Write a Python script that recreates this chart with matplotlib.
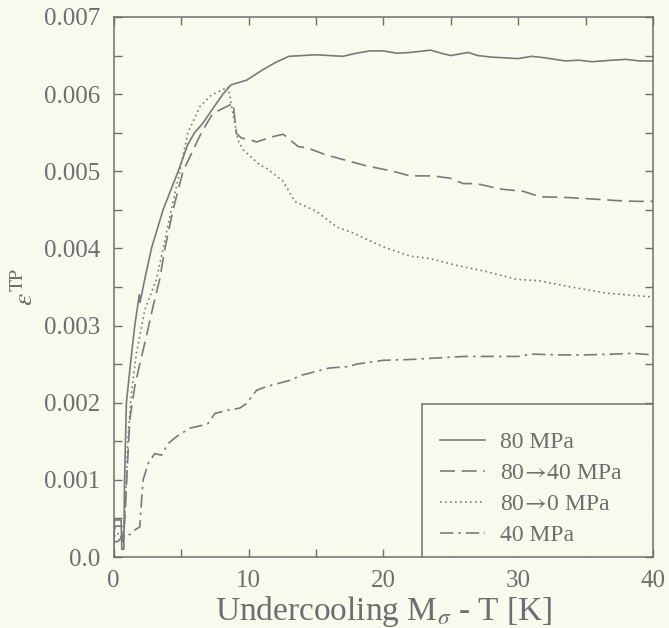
import matplotlib
matplotlib.use("Agg")
import matplotlib.pyplot as plt
from matplotlib.patches import Rectangle
from matplotlib.ticker import MultipleLocator, FixedFormatter, FixedLocator

plt.rcParams["font.family"] = ["Liberation Serif", "DejaVu Serif"]
plt.rcParams["mathtext.fontset"] = "stix"

# Transformation strain vs. undercooling for four loading histories
x_80 = [0.0, 0.05, 0.55, 0.6, 0.75, 0.8, 0.94, 1.24, 1.56, 1.9, 1.95, 2.3, 2.8, 3.66,
        4.78, 5.5, 6.0, 6.6, 7.3, 8.1, 8.7, 9.85, 11.0, 12.0, 13.0, 14.0, 15.0, 17.0, 18.0,
        19.0, 20.0, 21.0, 22.0, 23.5, 24.5, 25.0, 26.3, 27.0, 28.0, 29.0, 30.0, 31.0, 32.0,
        33.5, 34.5, 35.5, 37.0, 38.0, 39.0, 40.0]
y_80 = [0.0001, 0.00048, 0.00048, 0.0001, 0.0001, 0.00096, 0.0020, 0.0025, 0.0030, 0.00340,
        0.00330, 0.0036, 0.0040, 0.0045, 0.0050, 0.00535, 0.0055, 0.00562, 0.0058,
        0.0060, 0.00612, 0.00618, 0.00631, 0.00641, 0.00649, 0.0065, 0.00651, 0.00649, 0.00653,
        0.00656, 0.00656, 0.00653, 0.00654, 0.00657, 0.00652, 0.0065, 0.00654, 0.0065, 0.00648,
        0.00647, 0.00646, 0.00649, 0.00647, 0.00643, 0.00644, 0.00642, 0.00644, 0.00645,
        0.00643, 0.00643]

x_80_40 = [0.0, 0.1, 0.6, 0.7, 0.82, 0.94, 1.06, 1.19, 1.56, 1.93, 2.42, 2.92, 3.41, 3.8,
           4.4, 5.14, 6.5, 7.35, 8.86, 9.1, 9.48, 10.09, 10.59, 11.83, 12.57, 13.68, 14.42,
           15.78, 17.27, 18.75, 20.73, 21.97, 23.7, 24.94, 25.93, 26.92, 28.65, 30.38, 31.62,
           33.6, 35.58, 37.31, 38.8, 40.0]
y_80_40 = [0.0003, 0.0004, 0.0004, 0.0002, 0.00048, 0.00091, 0.00134, 0.00178, 0.00221,
           0.0025, 0.00286, 0.00325, 0.0036, 0.0040, 0.0045, 0.0050, 0.0055, 0.00575,
           0.00588, 0.00549, 0.00543, 0.00541, 0.00538, 0.00545, 0.00548, 0.00532, 0.0053,
           0.00521, 0.00514, 0.00507, 0.0050, 0.00494, 0.00494, 0.00491, 0.00484, 0.00484,
           0.00477, 0.00474, 0.00467, 0.00466, 0.00464, 0.00462, 0.00461, 0.00461]

x_80_0 = [0.0, 0.1, 0.5, 0.6, 0.82, 0.94, 1.06, 1.31, 1.68, 2.3, 3.17, 3.66, 4.27,
          4.9, 5.5, 6.4, 7.25, 8.48, 9.22, 9.6, 10.09, 10.84, 11.33, 12.57, 13.43, 15.04,
          16.53, 17.76, 19.99, 21.97, 23.45, 25.43, 27.41, 29.88, 31.62, 33.6, 36.57, 40.0]
y_80_0 = [0.0002, 0.0003, 0.0003, 0.0002, 0.00052, 0.00104, 0.00156, 0.00212, 0.00264,
          0.0032, 0.0036, 0.0040, 0.0045, 0.0050, 0.0055, 0.00584, 0.00599, 0.00609,
          0.0054, 0.00528, 0.0052, 0.00508, 0.00504, 0.00487, 0.00461, 0.00448, 0.00428,
          0.0042, 0.00402, 0.0039, 0.00387, 0.00378, 0.00371, 0.0036, 0.00358, 0.00351,
          0.00342, 0.00337]

x_40 = [0.0, 0.3, 0.8, 1.19, 1.56, 1.93, 2.05, 2.18, 2.55, 3.04, 3.54, 4.03, 4.65, 5.64,
        6.63, 7.0, 7.5, 8.36, 9.35, 9.85, 10.59, 11.33, 13.06, 14.0, 16.0, 17.5, 18.0, 20.0,
        22.0, 24.0, 26.0, 28.0, 30.0, 31.0, 33.0, 35.0, 37.0, 38.5, 40.0]
y_40 = [0.0002, 0.0002, 0.0003, 0.00029, 0.00035, 0.00039, 0.0007, 0.0010, 0.00121, 0.00134,
        0.00132, 0.00147, 0.00156, 0.00167, 0.00171, 0.00173, 0.00186, 0.0019, 0.00193,
        0.00199, 0.00216, 0.00221, 0.00229, 0.00236, 0.00245, 0.00247, 0.0025, 0.00255,
        0.00256, 0.00258, 0.0026, 0.0026, 0.0026, 0.00263, 0.00262, 0.00262, 0.00263,
        0.00264, 0.00262]

labels = ["80 MPa", r"80$\!{\rightarrow}\!$40 MPa", r"80$\!{\rightarrow}\!$0 MPa", "40 MPa"]
y_ticks = [0.0, 0.001, 0.002, 0.003, 0.004, 0.005, 0.006, 0.007]
y_tick_labels = ["0.0", "0.001", "0.002", "0.003", "0.004", "0.005", "0.006", "0.007"]
x_ticks = [0, 10, 20, 30, 40]

bg = "#f8faee"
ink = "#6e6e6e"
line_c = "#7a7a7a"

fig = plt.figure(figsize=(6.69, 6.28), dpi=100, facecolor=bg)
ax = fig.add_axes([0.170, 0.113, 0.806, 0.860], facecolor=bg)

lw = 1.2
ax.plot(x_80, y_80, color=line_c, lw=lw, ls="-", label=labels[0])
ax.plot(x_80_40, y_80_40, color=line_c, lw=lw, ls=(0, (9, 4)), label=labels[1])
ax.plot(x_80_0, y_80_0, color=line_c, lw=lw, ls=(0, (1, 2)), label=labels[2])
ax.plot(x_40, y_40, color=line_c, lw=lw, ls=(0, (8, 3, 1.5, 3)), label=labels[3])

ax.set_xlim(0, 40)
ax.set_ylim(0, 0.007)
ax.yaxis.set_major_locator(FixedLocator(y_ticks))
ax.yaxis.set_major_formatter(FixedFormatter(y_tick_labels))
ax.yaxis.set_minor_locator(MultipleLocator(0.0005))
ax.xaxis.set_major_locator(FixedLocator(x_ticks))
ax.xaxis.set_minor_locator(MultipleLocator(5))

for s in ax.spines.values():
    s.set_color(ink)
    s.set_linewidth(1.1)
ax.tick_params(which="both", direction="in", top=True, right=True, color=ink, width=1.0,
               labelcolor=ink, labelsize=18, length=6)
ax.tick_params(axis="x", pad=9)
ax.tick_params(axis="y", pad=10)

ax.set_xlabel(r"Undercooling M$_\sigma$ - T [K]", fontsize=24, color=ink)
ax.xaxis.label.set_va("baseline")
ax.xaxis.set_label_coords(0.5, -0.116)
ax.set_ylabel(r"$\varepsilon^{\mathrm{TP}}$", fontsize=20, color=ink, labelpad=3)

# Legend box anchored to the lower right corner of the axes
ax.add_patch(Rectangle((0.5725, 0.0), 0.4275, 0.283, transform=ax.transAxes,
                       facecolor=bg, edgecolor=ink, lw=1.1, zorder=3))
leg = ax.legend(loc="upper left", bbox_to_anchor=(0.605, 0.232), frameon=False,
                fontsize=17, handlelength=1.9, handletextpad=0.65, labelspacing=0.4,
                borderpad=0, borderaxespad=0)
leg.set_zorder(4)
for t in leg.get_texts():
    t.set_color(ink)

fig.savefig("out.png", dpi=100, facecolor=bg)
